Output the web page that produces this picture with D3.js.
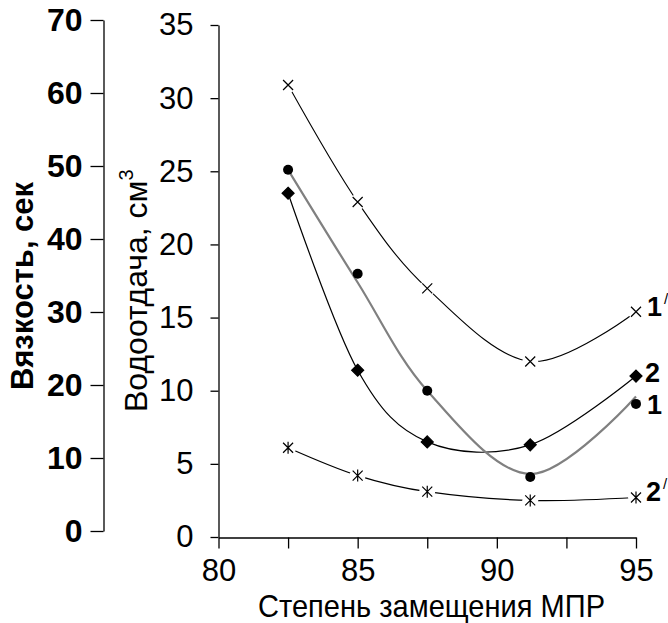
<!DOCTYPE html>
<html>
<head>
<meta charset="utf-8">
<script src="https://cdn.jsdelivr.net/npm/d3@7"></script>
<style>
  html, body { margin: 0; padding: 0; background: #fff; }
  svg { display: block; font-family: Arial, "Liberation Sans", sans-serif; }
</style>
</head>
<body>
<svg id="chart" width="668" height="623"></svg>
<script>
// Degree of MPR substitution (x) for every measured sample
const substitution = [82.5, 85, 87.5, 91.2, 95];

// Curve 1: measured points (filled circles)
const curve1 = [25.1, 18.0, 10.0, 4.1, 9.1];
// Curve 1: averaged grey line drawn through the circles
const curve1Line = [25.1, 17.4, 10.0, 4.3, 9.6];
// Curve 2: filled diamonds
const curve2 = [23.5, 11.4, 6.5, 6.3, 11.0];
// Curve 1': crosses
const curve1p = [30.9, 22.9, 17.0, 12.0, 15.4];
// Curve 2': asterisks
const curve2p = [6.1, 4.2, 3.1, 2.5, 2.7];

// Axis ticks
const xTicks = [80, 82.5, 85, 87.5, 90, 92.5, 95];
const waterTicks = [0, 5, 10, 15, 20, 25, 30, 35];
const viscTicks = [0, 10, 20, 30, 40, 50, 60, 70];

const svg = d3.select("#chart");

const x = d3.scaleLinear().domain([80, 95]).range([218.5, 636]);
const yWater = d3.scaleLinear().domain([0, 35]).range([537, 25]);
const yVisc = d3.scaleLinear().domain([0, 70]).range([531, 20]);

// ---- axes ----
const styleAxis = g => {
  g.selectAll("path.domain").attr("stroke", "#000").attr("stroke-width", 1.3);
  g.selectAll(".tick line").attr("stroke", "#000").attr("stroke-width", 1.3);
  g.selectAll("text").attr("fill", "#000").attr("font-family", "Arial, 'Liberation Sans', sans-serif");
};

// viscosity scale (far left)
svg.append("g")
  .attr("transform", "translate(103.5,0)")
  .call(d3.axisLeft(yVisc).tickValues(viscTicks).tickSize(13).tickSizeOuter(0).tickPadding(8))
  .call(styleAxis)
  .call(g => g.selectAll("text").attr("font-size", 32).attr("font-weight", "bold"));

// water-loss scale (next to the plot)
svg.append("g")
  .attr("transform", "translate(218.5,0)")
  .call(d3.axisLeft(yWater).tickValues(waterTicks).tickSize(8).tickSizeOuter(0).tickPadding(17))
  .call(styleAxis)
  .call(g => g.selectAll("text").attr("font-size", 31));

// x axis
svg.append("g")
  .attr("transform", "translate(0,537.5)")
  .call(d3.axisBottom(x).tickValues(xTicks).tickSize(11).tickSizeOuter(0).tickPadding(10)
        .tickFormat(d => (d % 5 === 0 ? d : "")))
  .call(styleAxis)
  .call(g => g.selectAll("text").attr("font-size", 31));

// ---- axis titles ----
svg.append("text")
  .attr("transform", "translate(33,286) rotate(-90)")
  .attr("text-anchor", "middle")
  .attr("font-size", 31)
  .attr("font-weight", "bold")
  .text("Вязкость, сек");

const wt = svg.append("text")
  .attr("transform", "translate(147,412) rotate(-90)")
  .attr("text-anchor", "start")
  .attr("font-size", 32);
wt.append("tspan").text("Водоотдача, см");
wt.append("tspan").attr("font-size", 20).attr("dy", -14).text("3");

svg.append("text")
  .attr("x", 258).attr("y", 617)
  .attr("font-size", 32)
  .attr("textLength", 347)
  .attr("lengthAdjust", "spacingAndGlyphs")
  .text("Степень замещения МПР");

// ---- curves ----
const pts = vals => vals.map((v, i) => [x(substitution[i]), yWater(v)]);
const smooth = d3.line().curve(d3.curveCardinal.tension(0));

const series = [
  { key: "1'", vals: curve1p, line: curve1p,    stroke: "#000",    width: 1.1, marker: "cross" },
  { key: "2'", vals: curve2p, line: curve2p,    stroke: "#000",    width: 1.2, marker: "star" },
  { key: "2",  vals: curve2,  line: curve2,     stroke: "#000",    width: 1.2, marker: "diamond" },
  { key: "1",  vals: curve1,  line: curve1Line, stroke: "#808080", width: 2.2, marker: "circle" }
];

series.forEach(s => {
  svg.append("path")
    .attr("d", smooth(pts(s.line)))
    .attr("fill", "none")
    .attr("stroke", s.stroke)
    .attr("stroke-width", s.width);
});

// open markers sit in a small white gap on their line
series.filter(s => s.marker === "cross" || s.marker === "star").forEach(s => {
  svg.append("g").selectAll("circle")
    .data(pts(s.vals))
    .join("circle")
    .attr("cx", d => d[0]).attr("cy", d => d[1])
    .attr("r", 8).attr("fill", "#fff");
});

const markerPath = (type) => {
  const r = 5;
  if (type === "cross") return `M${-r},${-r}L${r},${r}M${-r},${r}L${r},${-r}`;
  if (type === "star") return `M${-r},${-r}L${r},${r}M${-r},${r}L${r},${-r}M0,${-r - 1}L0,${r + 1}`;
  if (type === "diamond") return `M0,${-6}L6,0L0,6L-6,0Z`;
  return null;
};

series.forEach(s => {
  const g = svg.append("g");
  const data = pts(s.vals);
  if (s.marker === "circle") {
    g.selectAll("circle").data(data).join("circle")
      .attr("cx", d => d[0]).attr("cy", d => d[1]).attr("r", 5).attr("fill", "#000");
  } else {
    g.selectAll("path").data(data).join("path")
      .attr("transform", d => `translate(${d[0]},${d[1]})`)
      .attr("d", markerPath(s.marker))
      .attr("fill", s.marker === "diamond" ? "#000" : "none")
      .attr("stroke", "#000")
      .attr("stroke-width", 1.2);
  }
});

// ---- curve labels at the right end ----
const labelShift = { "1'": [11, 4], "2": [9, 6], "1": [11, 10], "2'": [10, 3] };
series.forEach(s => {
  const last = s.vals.length - 1;
  const [dx, dy] = labelShift[s.key];
  const t = svg.append("text")
    .attr("x", x(substitution[last]) + dx)
    .attr("y", yWater(s.vals[last]) + dy)
    .attr("font-size", 27)
    .attr("font-weight", "bold");
  t.append("tspan").text(s.key[0]);
  if (s.key.length > 1) {
    t.append("tspan").attr("font-size", 15).attr("font-weight", "normal")
      .attr("dx", 2).attr("dy", -12).text("/");
  }
});
</script>
</body>
</html>
